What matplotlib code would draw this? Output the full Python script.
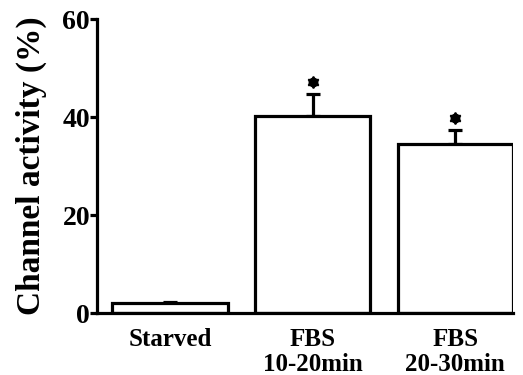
import matplotlib
matplotlib.use("Agg")
import matplotlib.pyplot as plt
import matplotlib.transforms as mtransforms
import numpy as np

categories = ["Starved", "FBS\n10-20min", "FBS\n20-30min"]
activity = [2.0, 40.2, 34.6]
sem = [0.3, 4.6, 2.7]
significant = [False, True, True]
yticks = [0, 20, 40, 60]

plt.rcParams["font.family"] = ["Liberation Serif", "DejaVu Serif"]
plt.rcParams["font.weight"] = "bold"

fig = plt.figure(figsize=(5.23, 3.75), dpi=100)
ax = fig.add_axes([0.1855, 0.1653, 0.981 - 0.1855, 0.949 - 0.1653])

x = np.arange(len(categories))
lw = 2.3
ax.bar(x, activity, width=0.807, color="white", edgecolor="black",
       linewidth=lw, zorder=2)
ax.errorbar(x, activity, yerr=[np.zeros(len(sem)), sem], fmt="none",
            ecolor="black", elinewidth=lw, capsize=5, capthick=lw, zorder=1)

# significance marks sit a little above the top of each error bar
shift = ax.transData + mtransforms.ScaledTranslation(0, 12 / 100, fig.dpi_scale_trans)
for xi, v, e, s in zip(x, activity, sem, significant):
    if s:
        ax.plot([xi], [v + e], linestyle="none", marker="h", markersize=7,
                color="black", transform=shift, zorder=3)
        ax.plot([xi], [v + e], linestyle="none", marker=(6, 1, 0),
                markersize=8.5, color="black", markeredgewidth=1.2,
                transform=shift, zorder=3)

ax.set_xlim(-0.512, 2.405)
ax.set_ylim(0, 60)
ax.set_yticks(yticks)
ax.set_yticklabels([str(t) for t in yticks], fontsize=20, fontweight="bold")
ax.set_xticks(x)
ax.set_xticklabels(categories, fontsize=18, fontweight="bold", linespacing=1.1)
ax.tick_params(axis="x", length=0, pad=11)
ax.tick_params(axis="y", direction="out", length=5, width=lw, pad=0)

ax.set_ylabel("Channel activity (%)", fontsize=24, fontweight="bold", labelpad=11)

for side in ("top", "right"):
    ax.spines[side].set_visible(False)
for side in ("left", "bottom"):
    ax.spines[side].set_linewidth(lw)

fig.savefig("out.png", dpi=100)
